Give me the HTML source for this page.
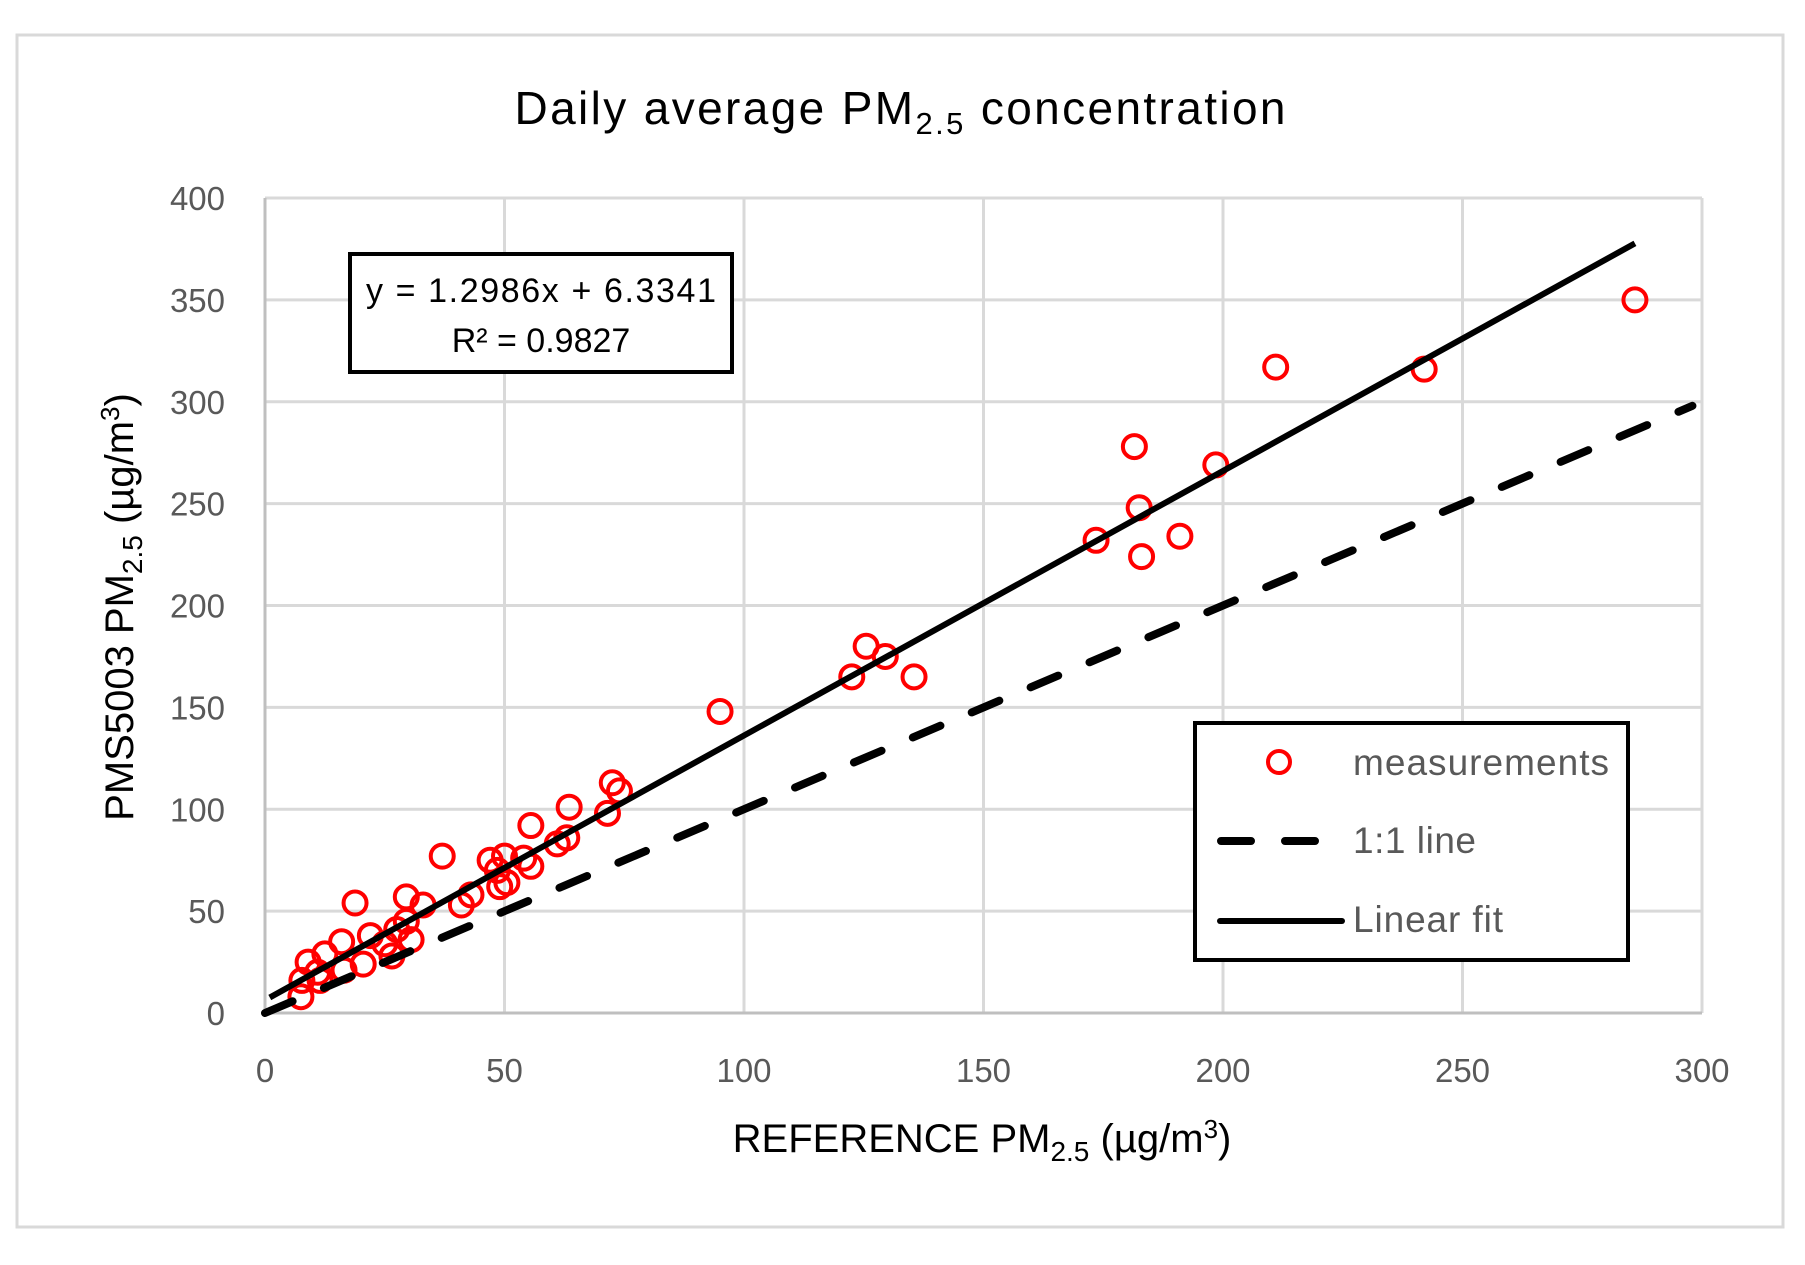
<!DOCTYPE html>
<html><head><meta charset="utf-8"><style>
html,body{margin:0;padding:0;background:#fff}
svg{display:block}
text{font-family:"Liberation Sans",sans-serif}
</style></head><body>
<svg id="chart" width="1805" height="1265" viewBox="0 0 1805 1265" xmlns="http://www.w3.org/2000/svg">
<rect x="17" y="35" width="1766" height="1192" fill="#fff" stroke="#d9d9d9" stroke-width="3"/>
<text x="900" y="124" font-size="46" fill="#000" text-anchor="middle" textLength="771" lengthAdjust="spacing">Daily average PM<tspan font-size="31" dy="10">2.5</tspan><tspan dy="-10"> concentration</tspan></text>
<g id="grid"></g>
<g id="ticks"></g>
<g id="lines"></g>
<g id="points"></g>
<g>
<rect x="350" y="254" width="382" height="118" fill="#fff" stroke="#000" stroke-width="4"/>
<text x="541" y="302" font-size="34" text-anchor="middle" textLength="350" fill="#000">y = 1.2986x + 6.3341</text>
<text x="541" y="352" font-size="34" text-anchor="middle" fill="#000">R² = 0.9827</text>
</g>
<g>
<rect x="1195" y="723" width="433" height="237" fill="#fff" stroke="#000" stroke-width="4"/>
<circle cx="1279" cy="762" r="11" fill="none" stroke="#f00" stroke-width="4"/>
<text x="1353" y="775" font-size="37" fill="#595959" textLength="256">measurements</text>
<line x1="1221" y1="841" x2="1318" y2="841" stroke="#000" stroke-width="8" stroke-dasharray="30 34" stroke-linecap="round"/>
<text x="1353" y="853" font-size="37" fill="#595959" textLength="123">1:1 line</text>
<line x1="1220" y1="921" x2="1342" y2="921" stroke="#000" stroke-width="6" stroke-linecap="round"/>
<text x="1353" y="932" font-size="37" fill="#595959" textLength="150">Linear fit</text>
</g>
<text x="982" y="1152" font-size="40" fill="#000" text-anchor="middle">REFERENCE PM<tspan font-size="28" dy="9">2.5</tspan><tspan dy="-9"> (µg/m</tspan><tspan font-size="26" dy="-14">3</tspan><tspan dy="14">)</tspan></text>
<text transform="translate(133,607) rotate(-90)" x="0" y="0" font-size="40" fill="#000" text-anchor="middle">PMS5003 PM<tspan font-size="28" dy="9">2.5</tspan><tspan dy="-9"> (µg/m</tspan><tspan font-size="26" dy="-14">3</tspan><tspan dy="14">)</tspan></text>
</svg>
<script>
const xTicks=[0,50,100,150,200,250,300];
const yTicks=[0,50,100,150,200,250,300,350,400];
const refX=[7.5,7.7,9,11.5,12.5,11,16,16.5,18.8,20.5,22,25,26.5,27.5,29.5,29.5,30.5,33,37,41,43,47,48.5,50,49,50.5,54,55.5,55.5,61,63,63.5,71.5,72.5,74,95,122.5,125.5,129.5,135.5,173.5,181.5,182.5,183,191,198.5,211,242,286];
const pmsY=[8,16,25,16,29,20,35,21,54,24,38,34,28,41,45,57,36,53,77,53,58,75,70,77,62,64,76,92,72,83,86,101,98,113,109,148,165,180,175,165,232,278,248,224,234,269,317,316,350];
const fitSlope=1.2986, fitIntercept=6.3341;
const fitRange=[1,286];
const oneToOneRange=[0,298];
const NS="http://www.w3.org/2000/svg";
const sx=v=>265+(v/300)*(1702-265);
const sy=v=>1013-(v/400)*(1013-198);
function mk(tag,attrs,parent){const e=document.createElementNS(NS,tag);for(const k in attrs)e.setAttribute(k,attrs[k]);parent.appendChild(e);return e;}
const grid=document.getElementById('grid'),ticks=document.getElementById('ticks'),lines=document.getElementById('lines'),pts=document.getElementById('points');
xTicks.forEach(t=>{if(t>0){const l=mk('line',{x1:sx(t),x2:sx(t),y1:sy(0),y2:sy(400),stroke:'#d9d9d9','stroke-width':3},grid);

}
const tx=mk('text',{x:sx(t),y:1082,'font-size':33,fill:'#595959','text-anchor':'middle'},ticks);tx.textContent=t;

});
yTicks.forEach(t=>{if(t>0){const l=mk('line',{x1:sx(0),x2:sx(300),y1:sy(t),y2:sy(t),stroke:'#d9d9d9','stroke-width':3},grid);

}
const tx=mk('text',{x:225,y:sy(t)+12,'font-size':33,fill:'#595959','text-anchor':'end'},ticks);tx.textContent=t;

});
const ax=mk('path',{d:`M${sx(0)} ${sy(400)}V${sy(0)}H${sx(300)}`,fill:'none',stroke:'#bfbfbf','stroke-width':3},grid);


const d=mk('line',{x1:sx(oneToOneRange[0]),y1:sy(oneToOneRange[0]),x2:sx(oneToOneRange[1]),y2:sy(oneToOneRange[1]),stroke:'#000','stroke-width':8,'stroke-dasharray':'30 34','stroke-linecap':'round'},lines);


refX.forEach((x,i)=>{const c=mk('circle',{cx:sx(x),cy:sy(pmsY[i]),r:11.5,fill:'none',stroke:'#f00','stroke-width':4},pts);

});
const f=mk('line',{x1:sx(fitRange[0]),y1:sy(fitSlope*fitRange[0]+fitIntercept),x2:sx(fitRange[1]),y2:sy(fitSlope*fitRange[1]+fitIntercept),stroke:'#000','stroke-width':6},lines);


document.getElementById('chart').insertBefore(lines,pts.nextSibling);
</script>
</body></html>
